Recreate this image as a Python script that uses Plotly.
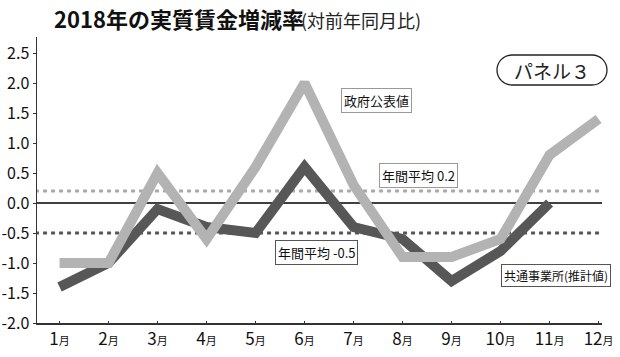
import plotly.graph_objects as go

months = ["1月", "2月", "3月", "4月", "5月", "6月", "7月", "8月", "9月", "10月", "11月", "12月"]
gov_values = [-1.0, -1.0, 0.5, -0.6, 0.6, 2.0, 0.3, -0.9, -0.9, -0.6, 0.8, 1.4]
common_values = [-1.4, -1.0, -0.1, -0.4, -0.5, 0.6, -0.4, -0.6, -1.3, -0.8, 0.0]
gov_avg = 0.2
common_avg = -0.5
y_ticks = [2.5, 2.0, 1.5, 1.0, 0.5, 0.0, -0.5, -1.0, -1.5, -2.0]

W, H = 620, 357
L, R, T, B = 37, 18, 37, 34
PW, PH = W - L - R, H - T - B

def px(x):
    return (x - L) / PW

def py(y):
    return (H - B - y) / PH

FONT = "Noto Sans CJK JP"
GRAY = "#b3b3b3"
DARK = "#575757"

xi = list(range(1, 13))
tick_text = [m[:-1] + "<span style='font-size:11px'>月</span>" for m in months]

fig = go.Figure()
fig.add_trace(go.Scatter(x=[0.5, 12.5], y=[gov_avg, gov_avg], mode="lines",
                         line=dict(color="#aaaaaa", width=3, dash="4px,4px"), hoverinfo="skip"))
fig.add_trace(go.Scatter(x=[0.5, 12.5], y=[common_avg, common_avg], mode="lines",
                         line=dict(color=DARK, width=3, dash="4px,4px"), hoverinfo="skip"))
fig.add_trace(go.Scatter(x=[0.5, 12.5], y=[0, 0], mode="lines",
                         line=dict(color="#000", width=1.3), hoverinfo="skip"))
fig.add_trace(go.Scatter(x=xi[:len(common_values)], y=common_values, mode="lines",
                         line=dict(color=DARK, width=10), hoverinfo="skip"))
fig.add_trace(go.Scatter(x=xi, y=gov_values, mode="lines",
                         line=dict(color=GRAY, width=10), hoverinfo="skip"))

annotations = [
    dict(x=px(52), y=py(18), xref="paper", yref="paper", xanchor="left", yanchor="middle",
         text="<b>2018年の実質賃金増減率</b>", showarrow=False,
         font=dict(family=FONT, size=22, color="#111")),
    dict(x=px(299), y=py(20), xref="paper", yref="paper", xanchor="left", yanchor="middle",
         text="(対前年同月比)", showarrow=False,
         font=dict(family=FONT, size=18, color="#222")),
    dict(x=px(552), y=py(70), xref="paper", yref="paper", xanchor="center", yanchor="middle",
         text="パネル３", showarrow=False,
         font=dict(family=FONT, size=19, color="#222")),
    dict(x=px(376), y=py(100), xref="paper", yref="paper", xanchor="center", yanchor="middle",
         text="政府公表値", showarrow=False, bgcolor="white",
         bordercolor="#999", borderwidth=1, borderpad=2,
         font=dict(family=FONT, size=13, color="#111")),
    dict(x=px(418), y=py(175), xref="paper", yref="paper", xanchor="center", yanchor="middle",
         text="年間平均 0.2", showarrow=False, bgcolor="white",
         bordercolor="#999", borderwidth=1, borderpad=2,
         font=dict(family=FONT, size=13, color="#111")),
    dict(x=px(316), y=py(252), xref="paper", yref="paper", xanchor="center", yanchor="middle",
         text="年間平均 -0.5", showarrow=False, bgcolor="white",
         bordercolor="#555", borderwidth=1, borderpad=2,
         font=dict(family=FONT, size=13, color="#111")),
    dict(x=px(556), y=py(275), xref="paper", yref="paper", xanchor="center", yanchor="middle",
         text="共通事業所(推計値)", showarrow=False, bgcolor="white",
         bordercolor="#555", borderwidth=1, borderpad=2,
         font=dict(family=FONT, size=12, color="#111")),
]

# pill-shaped frame for "パネル３"
x0, x1, y0, y1 = 497, 607, 55, 85
r = (y1 - y0) / 2
k = 0.5523 * r
def P(x, y):
    return f"{px(x):.5f},{py(y):.5f}"
path = (f"M {P(x0 + r, y0)} L {P(x1 - r, y0)} "
        f"C {P(x1 - r + k, y0)} {P(x1, y0 + r - k)} {P(x1, y0 + r)} "
        f"C {P(x1, y0 + r + k)} {P(x1 - r + k, y1)} {P(x1 - r, y1)} "
        f"L {P(x0 + r, y1)} "
        f"C {P(x0 + r - k, y1)} {P(x0, y0 + r + k)} {P(x0, y0 + r)} "
        f"C {P(x0, y0 + r - k)} {P(x0 + r - k, y0)} {P(x0 + r, y0)} Z")

fig.update_layout(
    width=W, height=H,
    margin=dict(l=L, r=R, t=T, b=B, autoexpand=False),
    paper_bgcolor="white", plot_bgcolor="white",
    showlegend=False,
    annotations=annotations,
    shapes=[dict(type="path", xref="paper", yref="paper", path=path,
                 line=dict(color="#222", width=1.3), fillcolor="rgba(0,0,0,0)")],
    xaxis=dict(range=[0.54, 12.07], tickvals=xi, ticktext=tick_text, automargin=False,
               showgrid=False, zeroline=False, showline=True, linecolor="#333", linewidth=1.5,
               ticks="inside", ticklen=2, tickcolor="#333",
               tickfont=dict(family=FONT, size=17, color="#111")),
    yaxis=dict(range=[-2.0, -2.0 + PH / 60.0], tickvals=y_ticks, automargin=False,
               ticktext=[f"{v:.1f}" for v in y_ticks],
               showgrid=False, zeroline=False, showline=True, linecolor="#333", linewidth=1.5,
               ticks="outside", ticklen=3, tickcolor="#333",
               tickfont=dict(family=FONT, size=16, color="#111")),
)

fig.write_html("out.html", config={"displayModeBar": False, "staticPlot": True},
               post_script="document.body.style.margin='0';")
